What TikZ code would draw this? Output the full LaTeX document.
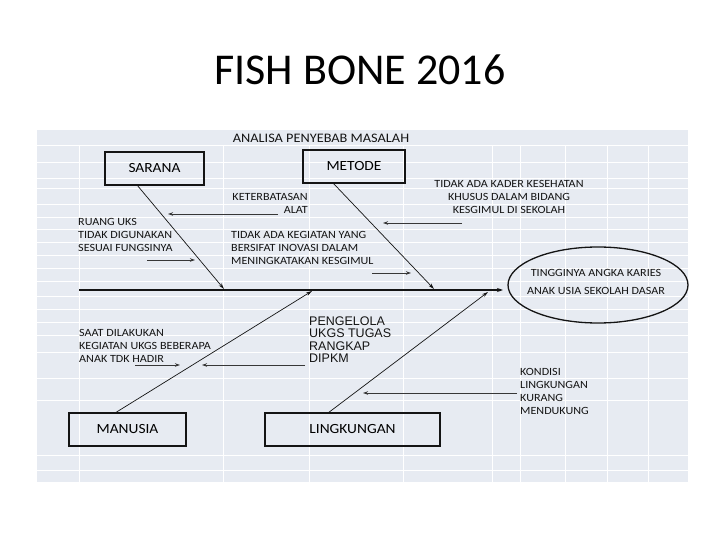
\documentclass[tikz,border=0pt]{standalone}
\usepackage{fontspec}
\setmainfont{Carlito}
\newfontfamily\calw[FakeStretch=1.1]{Carlito}
\newfontfamily\arialf{Liberation Sans}
\usetikzlibrary{arrows.meta,calc,shapes.geometric}
\definecolor{bgc}{RGB}{231,235,242}
\definecolor{inkc}{RGB}{20,20,20}
\begin{document}
\begin{tikzpicture}[x=1pt,y=-1pt,
  catbox/.style={draw=inkc,line width=1.3pt,inner sep=0pt,font=\calw\fontsize{14}{16}\selectfont},
  smalltxt/.style={inner sep=0pt,text=inkc,font=\calw\fontsize{11}{13}\selectfont},
  bone/.style={draw=inkc,line width=0.7pt,-{Stealth[length=6pt,width=3.5pt]}},
  spine/.style={draw=inkc,line width=1.3pt,-{Stealth[length=6pt,width=4pt]}},
  sub/.style={draw=inkc!85,line width=0.9pt,-{Stealth[length=5pt,width=3.5pt]}},
  gridl/.style={white,line width=0.9pt}]
\useasboundingbox (0,0) rectangle (720,540);
\fill[white] (0,0) rectangle (720,540);
\fill[bgc] (37,130) rectangle (688,482);
\foreach \yy in {145,162,178,188,204,217,229,242,255,268,281,296,309,322,335,352,378,400,455,470}
  \draw[gridl] (37,\yy) -- (688,\yy);
\foreach \xx in {79,223,309,403,492,520,565,607,648}
  \draw[gridl] (\xx,145) -- (\xx,482);

% title and heading
\node[font=\fontsize{44}{50}\selectfont] (title) at (360,70) {FISH BONE 2016};
\node[inner sep=0pt,text=inkc,font=\calw\fontsize{13}{15}\selectfont] (head) at (321,138) {ANALISA PENYEBAB MASALAH};

% category boxes
\node[catbox,minimum width=99pt,minimum height=33pt] (sarana) at (154.5,168.5) {SARANA};
\node[catbox,minimum width=102pt,minimum height=33pt] (metode) at (354,166.5) {METODE};
\node[catbox,minimum width=117pt,minimum height=33pt] (manusia) at (127.5,429.5) {MANUSIA};
\node[catbox,minimum width=175pt,minimum height=33pt] (lingk) at (352.5,429.5) {LINGKUNGAN};

% effect
\node[draw=inkc,line width=1.3pt,ellipse,minimum width=180pt,minimum height=76pt,inner sep=0pt] (effect) at (598,285) {};
\node[inner sep=0pt,align=center,text=inkc,font=\calw\fontsize{11}{18}\selectfont] (efftxt) at (596,282) {TINGGINYA ANGKA KARIES\\ANAK USIA SEKOLAH DASAR};

% spine
\coordinate (spS) at (79,290);
\coordinate (spE) at (503,290);
\draw[spine] (spS) -- (spE);

% bones
\coordinate (b1s) at (137,185); \coordinate (b1e) at (224,289);
\coordinate (b2s) at (333,183); \coordinate (b2e) at (434,289);
\coordinate (b3s) at (115,413); \coordinate (b3e) at (312,291);
\coordinate (b4s) at (328,413); \coordinate (b4e) at (488,292);
\draw[bone] (b1s) -- (b1e);
\draw[bone] (b2s) -- (b2e);
\draw[bone] (b3s) -- (b3e);
\draw[bone] (b4s) -- (b4e);

% cause texts
\node[smalltxt,anchor=east,align=right] (t1) at (308,203.5) {KETERBATASAN\\ALAT};
\node[smalltxt,anchor=west,align=left] (t2) at (78,235) {RUANG UKS\\TIDAK DIGUNAKAN\\SESUAI FUNGSINYA};
\node[smalltxt,anchor=west,align=left] (t3) at (231,248) {TIDAK ADA KEGIATAN YANG\\BERSIFAT INOVASI DALAM\\MENINGKATAKAN KESGIMUL};
\node[smalltxt,align=center] (t4) at (509,197) {TIDAK ADA KADER KESEHATAN\\KHUSUS DALAM BIDANG\\KESGIMUL DI SEKOLAH};
\node[smalltxt,anchor=west,align=left] (t5) at (79,346) {SAAT DILAKUKAN\\KEGIATAN UKGS BEBERAPA\\ANAK TDK HADIR};
\node[inner sep=0pt,text=inkc,anchor=west,align=left,font=\arialf\fontsize{12.5}{12.5}\selectfont] (t6) at (309,339.5) {PENGELOLA\\UKGS TUGAS\\RANGKAP\\DIPKM};
\node[smalltxt,anchor=west,align=left] (t7) at (520,391) {KONDISI\\LINGKUNGAN\\KURANG\\MENDUKUNG};

% sub-cause arrows
\coordinate (a1s) at (278,214); \coordinate (a1e) at (168,214);
\coordinate (a2s) at (147,260); \coordinate (a2e) at (195,260);
\coordinate (a3s) at (372,273); \coordinate (a3e) at (411,273);
\coordinate (a4s) at (462,223); \coordinate (a4e) at (383,223);
\coordinate (a5s) at (135,365); \coordinate (a5e) at (180,365);
\coordinate (a6s) at (305,365); \coordinate (a6e) at (202,365);
\coordinate (a7s) at (517,393); \coordinate (a7e) at (363,393);
\foreach \i in {1,...,7} \draw[sub] (a\i s) -- (a\i e);
\end{tikzpicture}
\end{document}
